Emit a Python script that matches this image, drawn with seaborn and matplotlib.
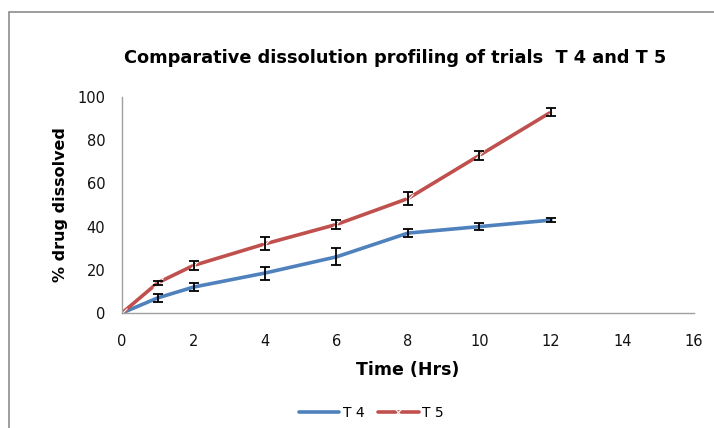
import numpy as np
import pandas as pd
import matplotlib
matplotlib.use("Agg")
import matplotlib.pyplot as plt
import seaborn as sns
from matplotlib.patches import Rectangle

time_hrs = [0, 1, 2, 4, 6, 8, 10, 12]
t4_values = [0, 7, 12, 18.5, 26, 37, 40, 43]
t4_errors = [0, 2, 2, 3, 4, 2, 1.5, 1]
t5_values = [0, 14, 22, 32, 41, 53, 73, 93]
t5_errors = [0, 1, 2, 3, 2, 3, 2, 2]
series_names = ["T 4", "T 5"]

sns.set_theme(style="white")
plt.rcParams['font.family'] = ['DejaVu Sans']
plt.rcParams['text.color'] = 'black'
plt.rcParams['axes.labelcolor'] = 'black'

df = pd.DataFrame({
    "time": time_hrs * 2,
    "value": t4_values + t5_values,
    "series": [series_names[0]] * len(time_hrs) + [series_names[1]] * len(time_hrs),
})

fig = plt.figure(figsize=(7.14, 4.28), dpi=100)
ax = fig.add_axes([0.1709, 0.2687, 0.801, 0.5047])

palette = {"T 4": "#4F81BD", "T 5": "#C0504D"}
sns.lineplot(data=df, x="time", y="value", hue="series", style="series",
             markers={"T 4": "", "T 5": "x"}, dashes=False, palette=palette,
             linewidth=2.6, markersize=7, markeredgewidth=0.8, ax=ax, legend=True)

for vals, errs in [(t4_values, t4_errors), (t5_values, t5_errors)]:
    ax.errorbar(time_hrs[1:], vals[1:], yerr=errs[1:], fmt="none", ecolor="black",
                elinewidth=1.3, capsize=3.5, capthick=1.3, zorder=5)

ax.set_xlim(0, 16)
ax.set_ylim(0, 100)
ax.set_xticks(range(0, 17, 2))
ax.set_yticks(range(0, 101, 20))
ax.tick_params(axis="both", labelsize=10.5, length=0, labelcolor="#111111")
ax.tick_params(axis="x", pad=15)
ax.tick_params(axis="y", pad=12)
for s in ["top", "right"]:
    ax.spines[s].set_visible(False)
for s in ["left", "bottom"]:
    ax.spines[s].set_color("#A0A0A0")
    ax.spines[s].set_linewidth(1.0)

ax.set_xlabel("Time (Hrs)", fontsize=12.5, fontweight="bold", labelpad=9)
ax.set_ylabel("% drug dissolved", fontsize=11.5, fontweight="bold", labelpad=7)

fig.text(0.553, 0.864, "Comparative dissolution profiling of trials  T 4 and T 5",
         ha="center", va="center", fontsize=12.8, fontweight="bold", color="black")

handles, labels = ax.get_legend_handles_labels()
leg = ax.legend(handles, labels, loc="center", bbox_to_anchor=(0.52, 0.035),
                bbox_transform=fig.transFigure, ncol=2, frameon=False, fontsize=10,
                handlelength=2.9, columnspacing=1.0, handletextpad=0.25)
for t in leg.get_texts():
    t.set_color("black")

fig.patches.append(Rectangle((0.013, -0.1), 1.2, 1.072, transform=fig.transFigure,
                             fill=False, edgecolor="#8C8C8C", linewidth=1.2))

fig.savefig("out.png", dpi=100)
